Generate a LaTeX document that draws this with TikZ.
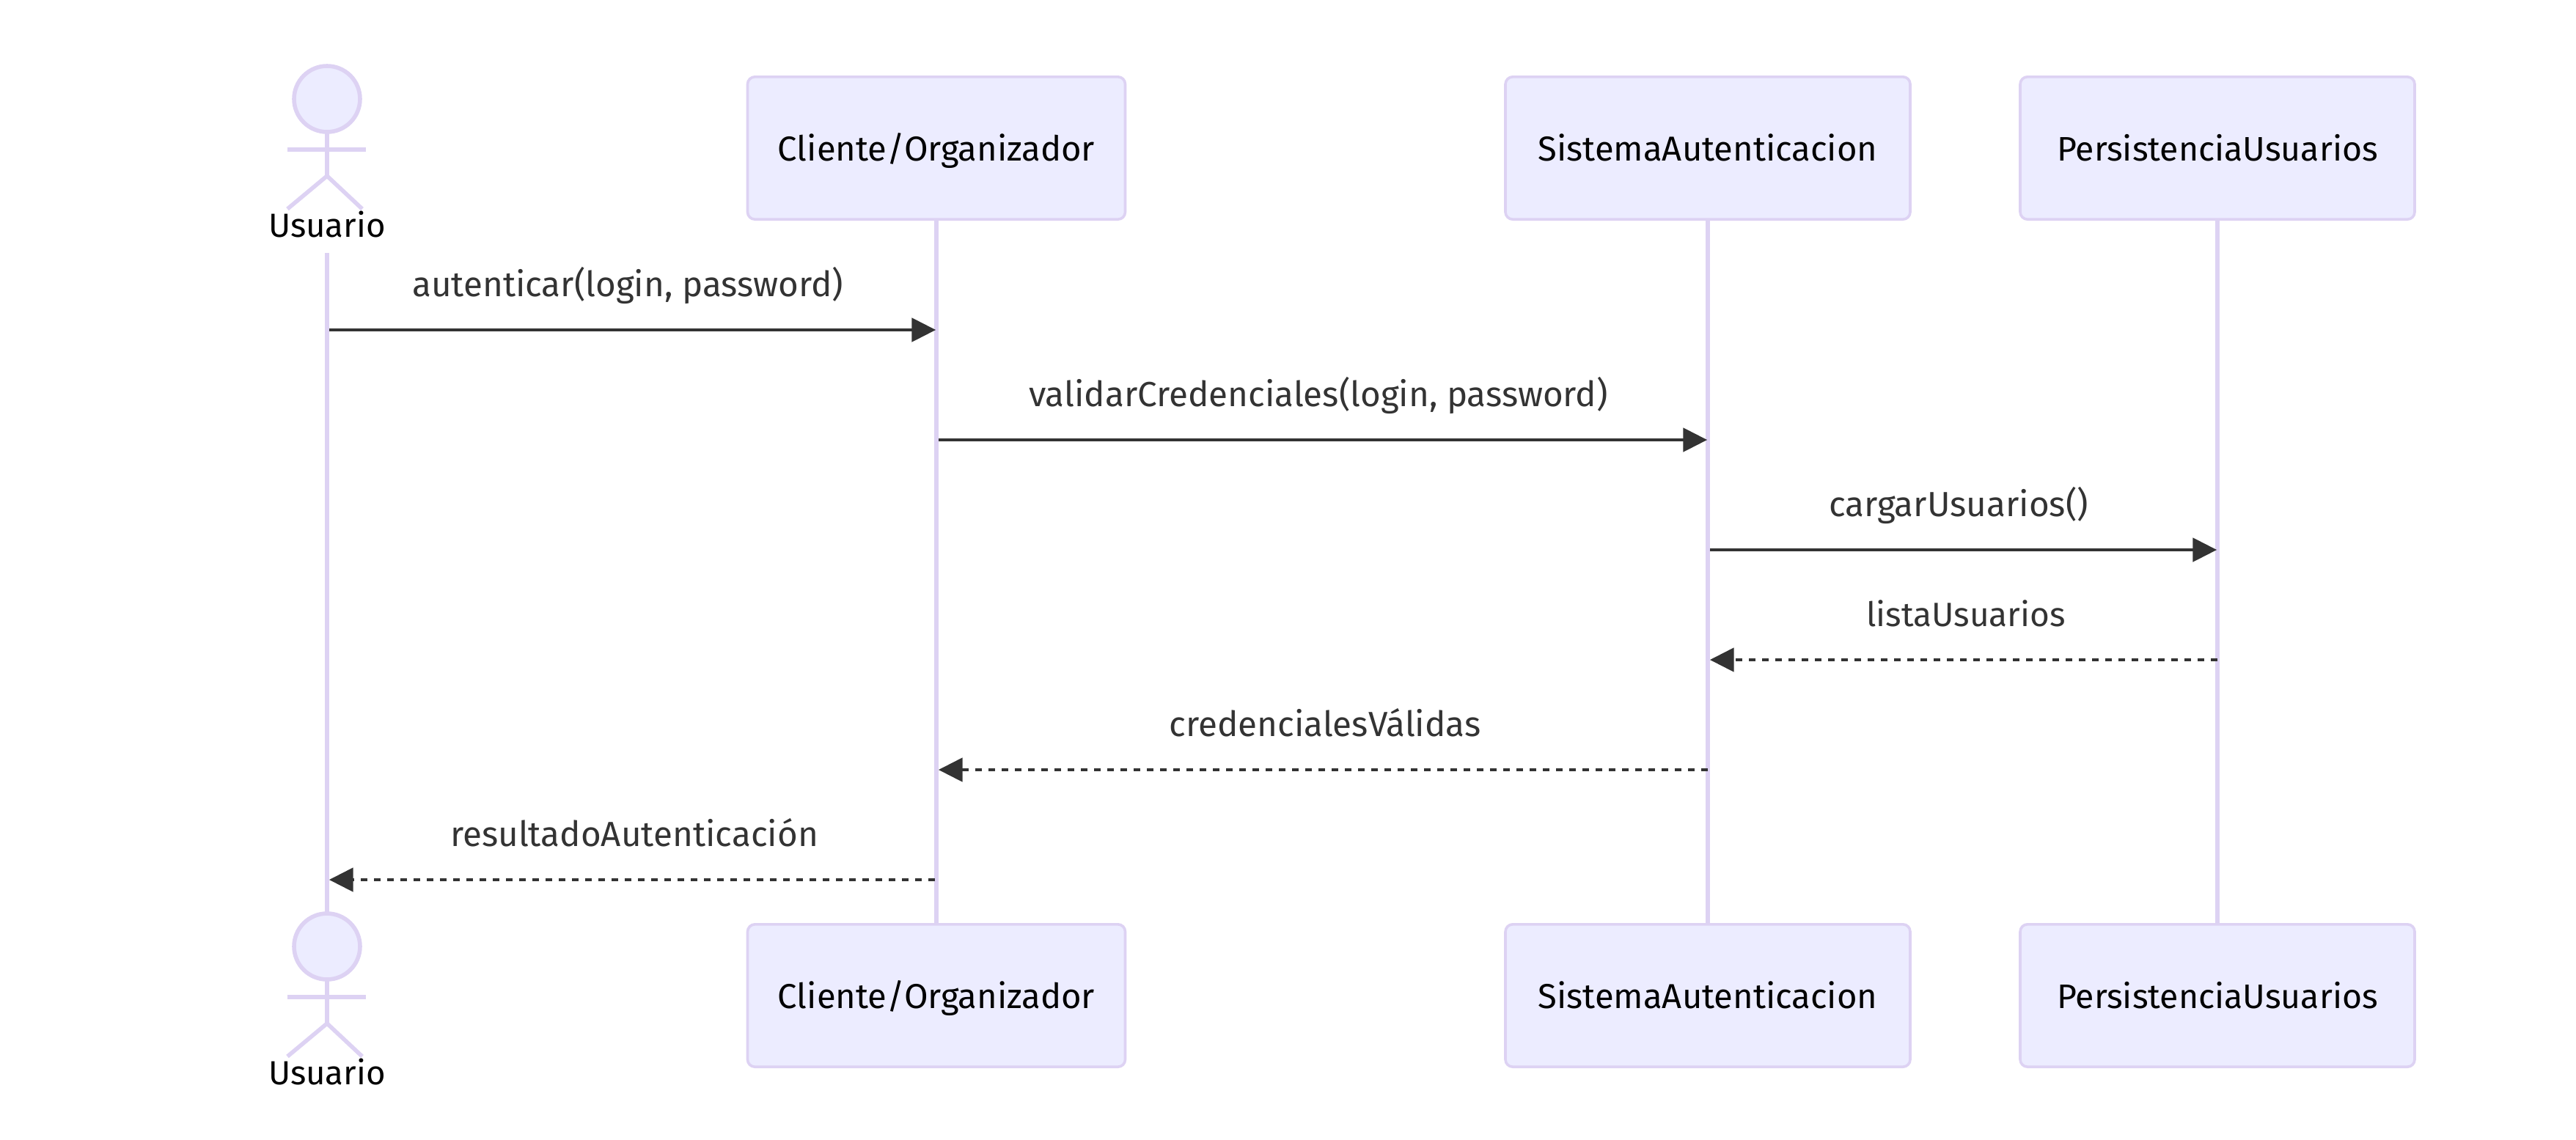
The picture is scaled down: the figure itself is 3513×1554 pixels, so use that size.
\documentclass[tikz,border=0pt]{standalone}
\usepackage{fontspec}
\setmainfont{Fira Sans}
\usepackage{tikz}
\usetikzlibrary{arrows.meta, positioning, calc}
\definecolor{actorFill}{HTML}{ECECFF}
\definecolor{actorLine}{HTML}{DDD2F3}
\definecolor{msgDark}{HTML}{333333}
\tikzset{
  partbox/.style={draw=actorLine, fill=actorFill, line width=0.9pt, rounded corners=2.5pt, minimum height=48.6pt, inner sep=0pt, text height=8.6pt, text depth=0pt, font=\fontsize{11.8}{13}\selectfont, text=black},
  lifeline/.style={draw=actorLine, line width=1.45pt},
  stick/.style={draw=actorLine, line width=1.4pt},
  msg/.style={draw=msgDark, line width=1.2pt, -{Triangle[length=8.2pt,width=8pt]}, shorten >=0.2pt},
  reply/.style={msg, dash pattern=on 2.25pt off 2.25pt},
  msglabel/.style={font=\fontsize{11.9}{13}\selectfont, text=msgDark, inner sep=0pt, anchor=base},
  actorlabel/.style={font=\fontsize{11.4}{13}\selectfont, text=black, inner sep=0pt, anchor=base}
}
\newcommand{\stickman}[2]{%
  \begin{scope}[shift={(#1,#2)}]
    \draw[stick, fill=actorFill] (0,0) circle (45);
    \draw[stick] (0,45) -- (0,105);
    \draw[stick] (-54,69) -- (53,69);
    \draw[stick] (-54,150) -- (0,105) -- (48,150);
  \end{scope}}
\begin{document}
\begin{tikzpicture}[x=0.25pt,y=-0.25pt]
  \useasboundingbox (0,0) rectangle (3513,1554);
  % --- lifelines first, boxes cover their ends ---
  \coordinate (usuarioTop) at (446,345);
  \coordinate (usuarioEnd) at (446,1245);
  \node[partbox, minimum width=128.75pt] (clienteTop) at (1277,202) {Cliente/Organizador};
  \node[partbox, minimum width=138pt] (sistemaTop) at (2329,202) {SistemaAutenticacion};
  \node[partbox, minimum width=134.5pt] (persistTop) at (3024,202) {\fontsize{11.6}{13}\selectfont PersistenciaUsuarios};
  \node[partbox, minimum width=128.75pt] (clienteEnd) at (1277,1358) {Cliente/Organizador};
  \node[partbox, minimum width=138pt] (sistemaEnd) at (2329,1358) {SistemaAutenticacion};
  \node[partbox, minimum width=134.5pt] (persistEnd) at (3024,1358) {\fontsize{11.6}{13}\selectfont PersistenciaUsuarios};
  \draw[lifeline] (usuarioTop) -- (usuarioEnd);
  \draw[lifeline] (clienteTop) -- (clienteEnd);
  \draw[lifeline] (sistemaTop) -- (sistemaEnd);
  \draw[lifeline] (persistTop) -- (persistEnd);
  % --- actors ---
  \stickman{446}{135}
  \stickman{446}{1291}
  \node[actorlabel] (usuarioA) at (446,323) {Usuario};
  \node[actorlabel] (usuarioB) at (446,1479) {Usuario};
  % --- messages ---
  \coordinate (u1) at (449,450);   \coordinate (c1) at (1277,450);
  \coordinate (c2) at (1280,600);  \coordinate (s2) at (2329,600);
  \coordinate (s3) at (2332,750);  \coordinate (p3) at (3024,750);
  \coordinate (p4) at (3024,900);  \coordinate (s4) at (2331,900);
  \coordinate (s5) at (2329,1050); \coordinate (c5) at (1279,1050);
  \coordinate (c6) at (1275,1200); \coordinate (u6) at (448,1200);
  \draw[msg] (u1) -- (c1);
  \draw[msg] (c2) -- (s2);
  \draw[msg] (s3) -- (p3);
  \draw[reply] (p4) -- (s4);
  \draw[reply] (s5) -- (c5);
  \draw[reply] (c6) -- (u6);
  \node[msglabel] (m1) at (856,404) {autenticar(login, password)};
  \node[msglabel] (m2) at (1798,554) {validarCredenciales(login, password)};
  \node[msglabel] (m3) at (2671,704) {cargarUsuarios()};
  \node[msglabel] (m4) at (2681,854) {\fontsize{11.5}{13}\selectfont listaUsuarios};
  \node[msglabel] (m5) at (1807,1004) {credencialesVálidas};
  \node[msglabel] (m6) at (865,1154) {resultadoAutenticación};
\end{tikzpicture}
\end{document}
